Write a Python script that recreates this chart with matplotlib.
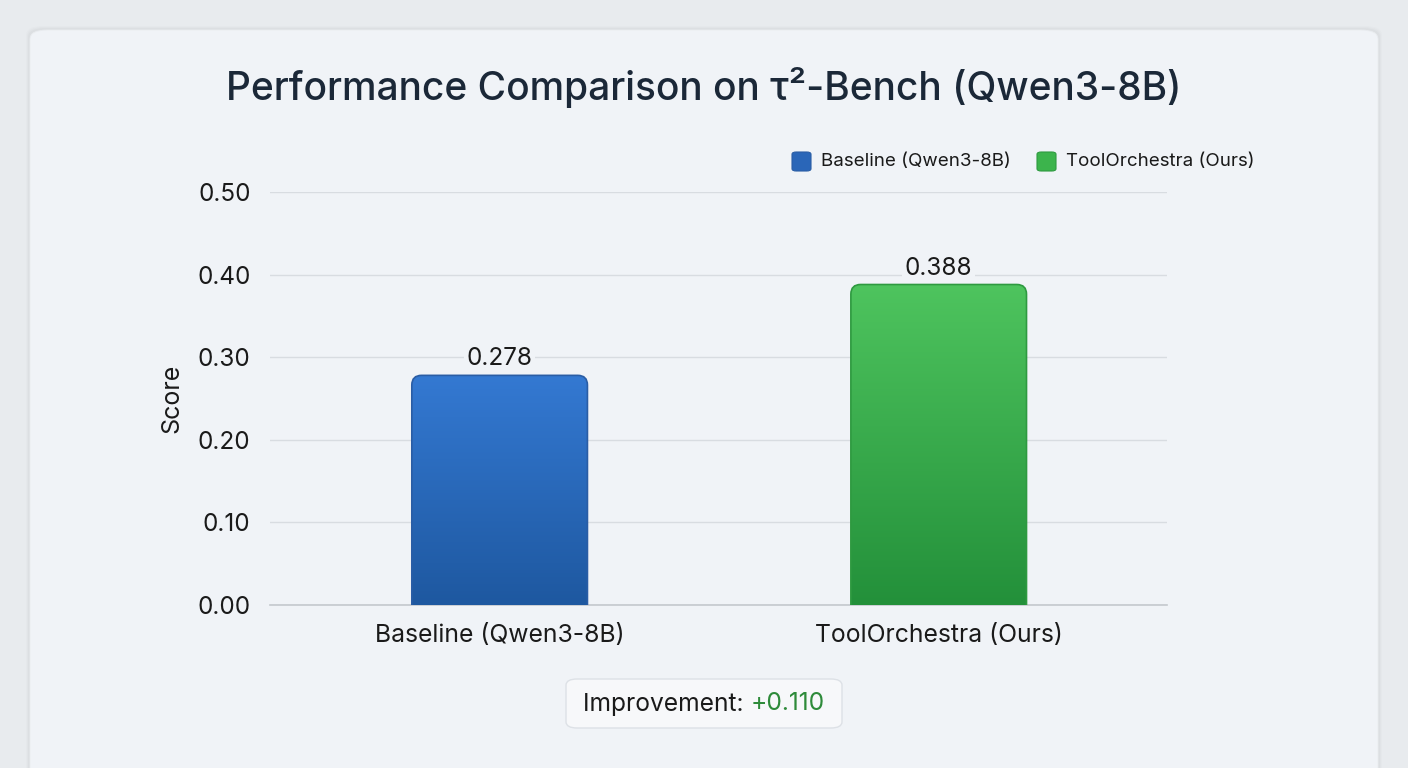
import numpy as np
import matplotlib
matplotlib.use("Agg")
import matplotlib.pyplot as plt
from matplotlib.patches import FancyBboxPatch
import matplotlib.colors as mcolors

# data
categories = ["Baseline (Qwen3-8B)", "ToolOrchestra (Ours)"]
scores = [0.278, 0.388]
y_ticks = [0.0, 0.1, 0.2, 0.3, 0.4, 0.5]
title = "Performance Comparison on τ²-Bench (Qwen3-8B)"

# styles
top_colors = ["#3479d2", "#4ec45e"]
bottom_colors = ["#1e58a0", "#23903a"]
edge_colors = ["#2a5da5", "#2e9a40"]
legend_colors = ["#2a66b8", "#3cb44c"]
card_color = "#f0f3f7"
outer_color = "#e8ebee"
text_color = "#1a1a1a"

plt.rcParams["font.family"] = ["Inter", "DejaVu Sans"]

fig = plt.figure(figsize=(14.08, 7.68), dpi=100)
fig.patch.set_facecolor(outer_color)

W, H = 1408, 768
def fx(px):
    return px / W
def fy(py):
    return 1 - py / H

# card with soft shadow
for i, a in enumerate([0.02, 0.015, 0.01]):
    s = FancyBboxPatch((fx(30 - 2 - i), fy(800)), fx(1348 + 4 + 2 * i), fy(28 - i) - fy(800),
                       boxstyle="round,pad=0,rounding_size=0.012", transform=fig.transFigure,
                       facecolor="black", edgecolor="none", alpha=a, zorder=0)
    fig.patches.append(s)
card = FancyBboxPatch((fx(30), fy(800)), fx(1348), fy(30) - fy(800),
                      boxstyle="round,pad=0,rounding_size=0.012", transform=fig.transFigure,
                      facecolor=card_color, edgecolor="#e9ecef", linewidth=0.6, zorder=1)
fig.patches.append(card)

ax = fig.add_axes([fx(270), fy(605), fx(1167) - fx(270), fy(192) - fy(605)])
ax.set_facecolor("none")
ax.set_zorder(2)

x = np.arange(len(categories))
bw = 0.4
bars = ax.bar(x, scores, width=bw, color="none", edgecolor="none", zorder=3)

ax.set_xlim(-0.523, 1.52)
ax.set_ylim(0, 0.5)

# gradient bars with rounded tops
asp = (8 / 826) / (8 / 439)
for i, b in enumerate(bars):
    x0, w, h = b.get_x(), b.get_width(), b.get_height()
    patch = FancyBboxPatch((x0, -0.03), w, h + 0.03,
                           boxstyle="round,pad=0,rounding_size=0.022",
                           mutation_aspect=asp, facecolor="none",
                           edgecolor=edge_colors[i], linewidth=1.2, zorder=4)
    ax.add_patch(patch)
    cmap = mcolors.LinearSegmentedColormap.from_list("g%d" % i, [bottom_colors[i], top_colors[i]])
    grad = np.linspace(0, 1, 256).reshape(-1, 1)
    im = ax.imshow(grad, extent=(x0, x0 + w, 0, h), origin="lower", cmap=cmap,
                   aspect="auto", zorder=3.5)
    im.set_clip_path(patch)
    ax.text(x[i], h + 0.006, f"{scores[i]:.3f}", ha="center", va="bottom",
            fontsize=17.5, color=text_color, zorder=5,
            bbox=dict(facecolor=card_color, edgecolor="none", pad=2))

ax.set_xlim(-0.523, 1.52)
ax.set_ylim(0, 0.5)
ax.set_aspect("auto")

ax.set_yticks(y_ticks)
ax.set_yticklabels([f"{t:.2f}" for t in y_ticks], fontsize=17.5, color=text_color)
ax.set_xticks(x)
ax.set_xticklabels(categories, fontsize=17.8, color=text_color)
ax.tick_params(axis="both", length=0)
ax.tick_params(axis="y", pad=14)
ax.tick_params(axis="x", pad=14)
ax.grid(axis="y", color="#d8dce1", linewidth=1, zorder=0)
ax.set_axisbelow(True)
for sp in ["top", "right", "left"]:
    ax.spines[sp].set_visible(False)
ax.spines["bottom"].set_color("#c4c8cd")
ax.spines["bottom"].set_linewidth(1.2)
ax.set_ylabel("Score", fontsize=18, color=text_color, labelpad=10)

fig.text(0.5, fy(87), title, ha="center", va="center", fontsize=28,
         fontweight="medium", color="#1b2838")

# legend
lx = [792, 1037]
for i, lab in enumerate(categories):
    sq = FancyBboxPatch((fx(lx[i]), fy(171)), fx(19), fy(152) - fy(171),
                        boxstyle="round,pad=0,rounding_size=0.003", transform=fig.transFigure,
                        facecolor=legend_colors[i], edgecolor=edge_colors[i], linewidth=0.8, zorder=3)
    fig.patches.append(sq)
    fig.text(fx(lx[i] + 29), fy(162), lab, ha="left", va="center", fontsize=13.5, color=text_color)

# improvement box
diff = scores[1] - scores[0]
box = FancyBboxPatch((fx(566), fy(728)), fx(276), fy(679) - fy(728),
                     boxstyle="round,pad=0,rounding_size=0.008", transform=fig.transFigure,
                     facecolor="#f7f8fa", edgecolor="#dde1e6", linewidth=1, zorder=3)
fig.patches.append(box)
t1 = fig.text(fx(583), fy(704), "Improvement: ", ha="left", va="center", fontsize=17.7, color=text_color)
fig.canvas.draw()
bb = t1.get_window_extent()
fig.text(bb.x1 / W, fy(704), f"+{diff:.3f}", ha="left", va="center", fontsize=17.7, color="#2e8b3a")

fig.savefig("out.png", dpi=100, facecolor=fig.get_facecolor())
